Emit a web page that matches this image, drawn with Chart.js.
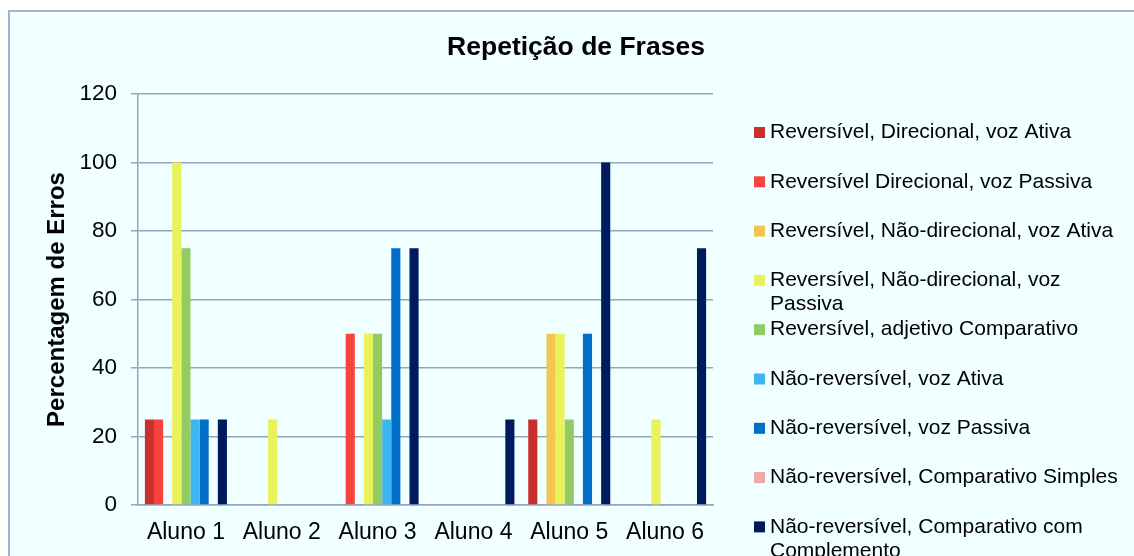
<!DOCTYPE html>
<html>
<head>
<meta charset="utf-8">
<script src="https://cdn.jsdelivr.net/npm/chart.js@4"></script>
<style>
  html, body { margin: 0; padding: 0; background: #ffffff; overflow: hidden; width: 1134px; height: 556px; }
  #frame { position: absolute; left: 8px; top: 10px; width: 1124px; height: 544px;
           background: #F0FFFF; border-left: 2px solid #A6B2CB; border-top: 2px solid #A6B2CB; }
  #wrap { position: absolute; left: 0; top: 0; width: 1134px; height: 556px; }
</style>
</head>
<body>
<div id="frame"></div>
<div id="wrap"><canvas id="c" width="1134" height="556"></canvas></div>
<script>
const chartTitle = 'Repetição de Frases';
const yAxisTitle = 'Percentagem de Erros';
const categories = ['Aluno 1', 'Aluno 2', 'Aluno 3', 'Aluno 4', 'Aluno 5', 'Aluno 6'];
const seriesNames = [
  'Reversível, Direcional, voz Ativa',
  'Reversível Direcional, voz Passiva',
  'Reversível, Não-direcional, voz Ativa',
  'Reversível, Não-direcional, voz Passiva',
  'Reversível, adjetivo Comparativo',
  'Não-reversível, voz Ativa',
  'Não-reversível, voz Passiva',
  'Não-reversível, Comparativo Simples',
  'Não-reversível, Comparativo com Complemento'
];
const revDirAtiva      = [25, 0, 0, 0, 25, 0];
const revDirPassiva    = [25, 0, 50, 0, 0, 0];
const revNaoDirAtiva   = [0, 0, 0, 0, 50, 0];
const revNaoDirPassiva = [100, 25, 50, 0, 50, 25];
const revAdjComp       = [75, 0, 50, 0, 25, 0];
const naoRevAtiva      = [25, 0, 25, 0, 0, 0];
const naoRevPassiva    = [25, 0, 75, 0, 50, 0];
const naoRevCompSimp   = [0, 0, 0, 0, 0, 0];
const naoRevCompCompl  = [25, 0, 75, 25, 100, 75];
const yTicks = [0, 20, 40, 60, 80, 100, 120];

const seriesValues = [revDirAtiva, revDirPassiva, revNaoDirAtiva, revNaoDirPassiva, revAdjComp,
                      naoRevAtiva, naoRevPassiva, naoRevCompSimp, naoRevCompCompl];
const seriesColors = ['#C9302C', '#F8423C', '#F6C550', '#E8F25A', '#92CB62',
                      '#3BB6F1', '#006DC6', '#EFAAA6', '#001B5D'];

const FONT = "'Liberation Sans', Arial, sans-serif";
const gridColor = '#98A4BF';

const wrapLegend = {
  id: 'wrapLegend',
  afterDraw(chart) {
    const ctx = chart.ctx;
    const area = chart.chartArea;
    const boxX = area.right + 41;
    const textX = boxX + 16;
    const maxW = 362;
    const startY = 132.5, step = 49.3, lineH = 24;
    ctx.save();
    ctx.font = '21px ' + FONT;
    ctx.textBaseline = 'middle';
    ctx.textAlign = 'left';
    chart.data.datasets.forEach((ds, i) => {
      const cy = startY + step * i;
      ctx.fillStyle = ds.backgroundColor;
      ctx.fillRect(boxX, cy - 5.5, 11, 11);
      const words = ds.label.split(' ');
      const lines = [];
      let cur = '';
      words.forEach(w => {
        const t = cur ? cur + ' ' + w : w;
        if (ctx.measureText(t).width > maxW && cur) { lines.push(cur); cur = w; }
        else cur = t;
      });
      if (cur) lines.push(cur);
      ctx.fillStyle = '#000000';
      lines.forEach((ln, k) => ctx.fillText(ln, textX, cy + k * lineH));
    });
    ctx.restore();
  }
};

new Chart(document.getElementById('c'), {
  type: 'bar',
  data: {
    labels: categories,
    datasets: seriesValues.map((vals, i) => ({
      label: seriesNames[i],
      data: vals,
      backgroundColor: seriesColors[i],
      borderWidth: 0,
      categoryPercentage: 0.856,
      barPercentage: 1.0
    }))
  },
  options: {
    responsive: false,
    animation: false,
    devicePixelRatio: 1,
    layout: { padding: { left: 18, top: 0, right: 0, bottom: 0 } },
    plugins: {
      legend: { display: false },
      tooltip: { enabled: false },
      title: {
        display: true,
        text: chartTitle,
        color: '#000000',
        font: { family: FONT, size: 26.5, weight: 'bold' },
        padding: { top: 32, bottom: 30.2 }
      }
    },
    scales: {
      x: {
        grid: { display: false, drawTicks: false },
        border: { display: true, color: gridColor, width: 1.5 },
        ticks: { color: '#000000', font: { family: FONT, size: 23 }, padding: 14, maxRotation: 0, autoSkip: false },
        afterFit(scale) { scale.height = 51; }
      },
      y: {
        min: 0, max: 120,
        afterBuildTicks(scale) { scale.ticks = yTicks.map(v => ({ value: v })); },
        grid: { color: gridColor, lineWidth: 1.5, tickLength: 7, drawTicks: true },
        border: { display: true, color: gridColor, width: 1.5 },
        ticks: { color: '#000000', font: { family: FONT, size: 22.5 }, padding: 14 },
        title: {
          display: true, text: yAxisTitle, color: '#000000',
          font: { family: FONT, size: 24, weight: 'bold' },
          padding: { top: 24.6, bottom: 0 }
        },
        afterFit(scale) { scale.width = 120; }
      },
      spacer: {
        type: 'linear', position: 'right', display: true,
        grid: { display: false, drawTicks: false },
        border: { display: false },
        ticks: { display: false },
        afterFit(scale) { scale.width = 421; }
      }
    }
  },
  plugins: [wrapLegend]
});
</script>
</body>
</html>
